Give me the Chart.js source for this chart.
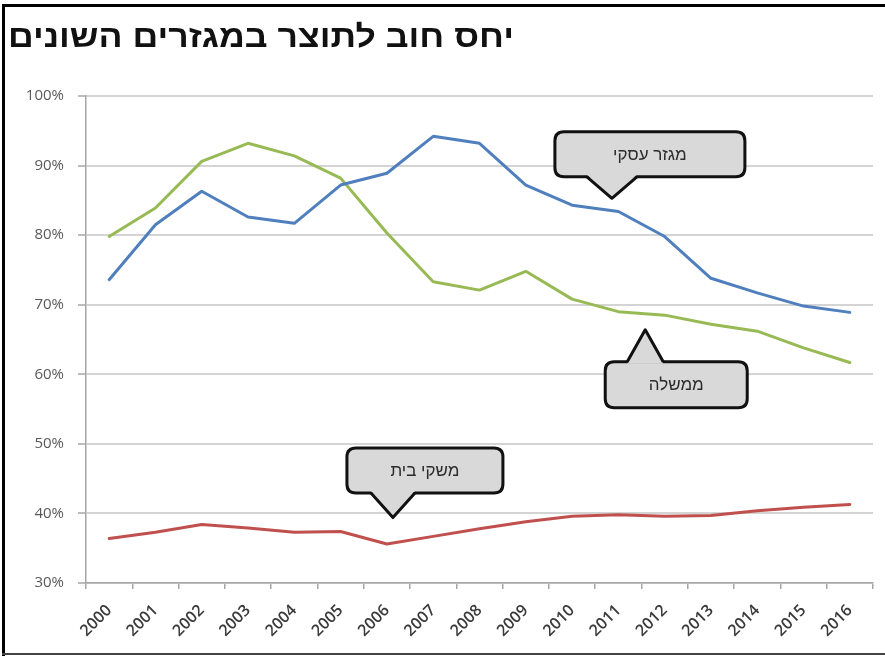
<!DOCTYPE html>
<html lang="he">
<head>
<meta charset="utf-8">
<script src="https://cdn.jsdelivr.net/npm/chart.js@4/dist/chart.umd.min.js"></script>
<style>
  html, body { margin: 0; padding: 0; background: #ffffff; }
  #wrap { position: absolute; left: 0; top: 0; width: 885px; height: 656px; }
  canvas { display: block; }
</style>
</head>
<body>
<div id="wrap"><canvas id="c" width="885" height="656"></canvas></div>
<script>
// ---- data ----
const title = "יחס חוב לתוצר במגזרים השונים";
const years = ["2000","2001","2002","2003","2004","2005","2006","2007","2008","2009","2010","2011","2012","2013","2014","2015","2016"];
const businessLabel = "מגזר עסקי";
const governmentLabel = "ממשלה";
const householdLabel = "משקי בית";
const business   = [73.6, 81.5, 86.3, 82.6, 81.7, 87.2, 88.9, 94.2, 93.2, 87.2, 84.3, 83.4, 79.8, 73.8, 71.7, 69.8, 68.9];
const government = [79.8, 83.9, 90.6, 93.2, 91.4, 88.2, 80.3, 73.3, 72.1, 74.8, 70.8, 69.0, 68.5, 67.2, 66.2, 63.8, 61.7];
const households = [36.4, 37.3, 38.4, 37.9, 37.3, 37.4, 35.6, 36.7, 37.8, 38.8, 39.6, 39.8, 39.6, 39.7, 40.4, 40.9, 41.3];
const yTicks = [30, 40, 50, 60, 70, 80, 90, 100];

// callouts: tip anchored in data units (category index, value)
const callouts = [
  { text: businessLabel,   tipIndex: 10.86, tipValue: 85.3, dx: 38,  dy: -44, w: 190, h: 45, half: 25 },
  { text: governmentLabel, tipIndex: 11.58, tipValue: 66.4, dx: 31,  dy: 55,  w: 142, h: 46, half: 18 },
  { text: householdLabel,  tipIndex: 6.13,  tipValue: 39.4, dx: 32,  dy: -47, w: 156, h: 45, half: 22 }
];

function roundRectPath(ctx, x, y, w, h, r) {
  ctx.beginPath();
  ctx.moveTo(x + r, y);
  ctx.lineTo(x + w - r, y);
  ctx.quadraticCurveTo(x + w, y, x + w, y + r);
  ctx.lineTo(x + w, y + h - r);
  ctx.quadraticCurveTo(x + w, y + h, x + w - r, y + h);
  ctx.lineTo(x + r, y + h);
  ctx.quadraticCurveTo(x, y + h, x, y + h - r);
  ctx.lineTo(x, y + r);
  ctx.quadraticCurveTo(x, y, x + r, y);
  ctx.closePath();
}

const decorPlugin = {
  id: 'decor',
  beforeDraw(chart) {
    const ctx = chart.ctx;
    ctx.save();
    ctx.fillStyle = '#ffffff';
    ctx.fillRect(0, 0, chart.width, chart.height);
    ctx.restore();
  },
  afterDraw(chart) {
    const ctx = chart.ctx;
    const xs = chart.scales.x, ys = chart.scales.y;
    ctx.save();
    // title (slightly widened bold sans)
    ctx.save();
    ctx.fillStyle = '#111111';
    ctx.font = 'bold 31px "Liberation Sans", Arial, sans-serif';
    ctx.textAlign = 'left';
    ctx.textBaseline = 'alphabetic';
    ctx.direction = 'rtl';
    ctx.translate(8, 47);
    ctx.scale(1.15, 1);
    ctx.fillText(title, 0, 0);
    ctx.restore();

    // callouts
    callouts.forEach(c => {
      const tx = xs.getPixelForValue(c.tipIndex);
      const ty = ys.getPixelForValue(c.tipValue);
      const cx = tx + c.dx, cy = ty + c.dy;
      const bx = cx - c.w / 2, by = cy - c.h / 2;
      const down = c.dy < 0; // box above the tip
      const baseY = down ? by + c.h : by;
      ctx.lineJoin = 'round';
      ctx.lineWidth = 3;
      ctx.strokeStyle = '#111111';
      ctx.fillStyle = '#d9d9d9';
      roundRectPath(ctx, bx, by, c.w, c.h, 9);
      ctx.fill();
      ctx.stroke();
      // pointer
      ctx.beginPath();
      ctx.moveTo(tx - c.half, baseY + (down ? -2 : 2));
      ctx.lineTo(tx, ty);
      ctx.lineTo(tx + c.half, baseY + (down ? -2 : 2));
      ctx.closePath();
      ctx.fill();
      ctx.beginPath();
      ctx.moveTo(tx - c.half, baseY);
      ctx.lineTo(tx, ty);
      ctx.lineTo(tx + c.half, baseY);
      ctx.stroke();
      // text
      ctx.fillStyle = '#2b2b2b';
      ctx.font = '17px "Liberation Sans", Arial, sans-serif';
      ctx.textAlign = 'center';
      ctx.textBaseline = 'middle';
      ctx.direction = 'rtl';
      ctx.fillText(c.text, cx, cy + 1);
      ctx.direction = 'ltr';
    });

    // frame
    ctx.fillStyle = '#000000';
    ctx.fillRect(2, 4, 3, chart.height - 4);
    ctx.fillRect(2, 4, chart.width - 2, 3);
    ctx.fillStyle = '#444444';
    ctx.fillRect(2, chart.height - 3, chart.width - 2, 2);
    ctx.restore();
  }
};

new Chart(document.getElementById('c'), {
  type: 'line',
  data: {
    labels: years,
    datasets: [
      { label: businessLabel,   data: business,   borderColor: '#4f7fbd', borderWidth: 3 },
      { label: governmentLabel, data: government, borderColor: '#98ba55', borderWidth: 3 },
      { label: householdLabel,  data: households, borderColor: '#c0504d', borderWidth: 3 }
    ]
  },
  options: {
    responsive: false,
    animation: false,
    events: [],
    layout: { padding: { left: 0, top: 96, right: 12, bottom: 0 } },
    elements: { point: { radius: 0 }, line: { tension: 0, borderCapStyle: 'round', borderJoinStyle: 'round' } },
    plugins: { legend: { display: false }, title: { display: false }, tooltip: { enabled: false } },
    scales: {
      x: {
        type: 'category',
        offset: true,
        afterFit(scale) { scale.height = 73; },
        grid: { display: true, drawOnChartArea: false, drawTicks: true, tickLength: 6, offset: true, color: '#a6a6a6', lineWidth: 1.5 },
        border: { display: true, color: '#a6a6a6', width: 1.5 },
        ticks: {
          minRotation: 45, maxRotation: 45, autoSkip: false, padding: 12,
          color: '#3a3a3a',
          font: { family: '"Open Sans", "Liberation Sans", sans-serif', size: 16, weight: '600' }
        }
      },
      y: {
        min: 30, max: 100,
        afterFit(scale) { scale.width = 86; },
        afterBuildTicks(scale) { scale.ticks = yTicks.map(v => ({ value: v })); },
        grid: { color: '#d4d4d4', lineWidth: 2, drawTicks: true, tickLength: 8, tickColor: '#a6a6a6', tickWidth: 1.5 },
        border: { display: true, color: '#a6a6a6', width: 1.5 },
        ticks: {
          padding: 14,
          color: '#595959',
          font: { family: '"Open Sans", "Liberation Sans", sans-serif', size: 15 },
          callback: v => v + '%'
        }
      }
    }
  },
  plugins: [decorPlugin]
});
</script>
</body>
</html>
